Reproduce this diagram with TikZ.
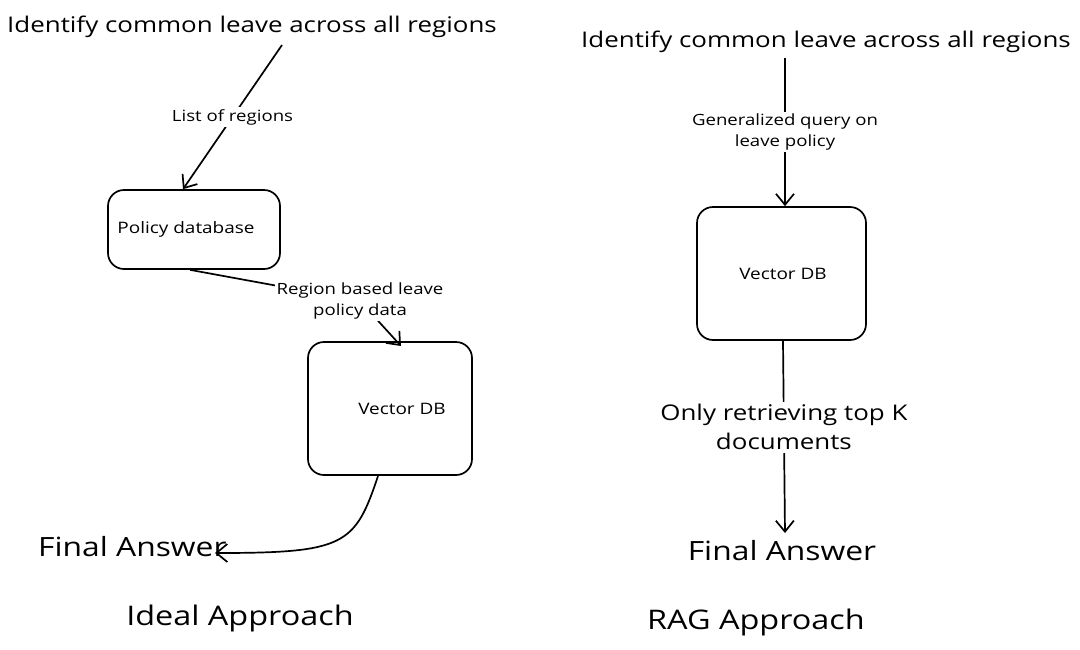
\documentclass[tikz,border=0pt]{standalone}
\usepackage{fontspec}
\setmainfont{Open Sans}[FakeStretch=1.2]
\usetikzlibrary{arrows.meta}
\begin{document}
\begin{tikzpicture}[x=1pt,y=-1pt,
  box/.style={draw, line width=1.7pt, rounded corners=16pt, inner sep=0pt, align=center},
  conn/.style={line width=1.7pt, -{Straight Barb[length=11pt,width=18pt,line width=1.7pt]}},
  bigtxt/.style={font=\fontsize{21.6}{26}\selectfont, inner sep=0pt},
  lbl/.style={font=\fontsize{15.5}{21}\selectfont, fill=white, align=center, inner sep=2pt},
  midlbl/.style={font=\fontsize{21.6}{29}\selectfont, fill=white, align=center, inner sep=3pt},
  fintxt/.style={font=\fontsize{26.5}{30}\selectfont, inner sep=0pt},
  apptxt/.style={font=\fontsize{27}{30}\selectfont, inner sep=0pt},
  boxtxt/.style={font=\fontsize{15.8}{19}\selectfont}
]
\useasboundingbox (0,0) rectangle (1080,649);
% ---------------- left: Ideal approach ----------------
\node[bigtxt] (lt) at (252,27) {Identify common leave across all regions};
\coordinate (ls) at (282,45);
\node[box, minimum width=172pt, minimum height=79pt] (pdb) at (194,229.5) {};
\node[boxtxt] (pdbt) at (186,229) {Policy database};
\node[box, minimum width=164pt, minimum height=133pt] (lvdb) at (390,408.5) {};
\node[boxtxt] (lvdbt) at (402,409) {Vector DB};
\node[fintxt, anchor=west] (lfa) at (38,547) {Final Answer};
\node[apptxt] (ideal) at (240,618) {Ideal Approach};

\draw[conn] (ls) -- node[lbl] {List of regions} ([xshift=-11pt]pdb.north);
\coordinate (lbend) at (360,301);
\coordinate (lvin) at (401,346);
\draw[conn] ([xshift=-4pt]pdb.south) -- (lbend) -- (lvin);
\node[lbl] (rbl) at (lbend) {Region based leave\\policy data};
\coordinate (lvout) at (378,476);
\coordinate (lfin) at (215,553);
\draw[conn] (lvout) .. controls (355,545) and (345,553) .. (lfin);

% ---------------- right: RAG approach ----------------
\node[bigtxt] (rt) at (826,42) {Identify common leave across all regions};
\coordinate (rs) at (785,58);
\node[box, minimum width=169pt, minimum height=133pt] (rvdb) at (781.5,273.5) {};
\node[boxtxt] (rvdbt) at (783,274) {Vector DB};
\node[fintxt] (rfa) at (782,551) {Final Answer};
\node[apptxt] (rag) at (756,622) {RAG Approach};

\draw[conn] (rs) -- node[lbl] {Generalized query on\\leave policy} ([xshift=3.5pt]rvdb.north);
\coordinate (rfin) at (785,533);
\draw[conn] ([xshift=1.5pt]rvdb.south) -- node[midlbl, pos=0.45] {Only retrieving top K\\documents} (rfin);
\end{tikzpicture}
\end{document}
